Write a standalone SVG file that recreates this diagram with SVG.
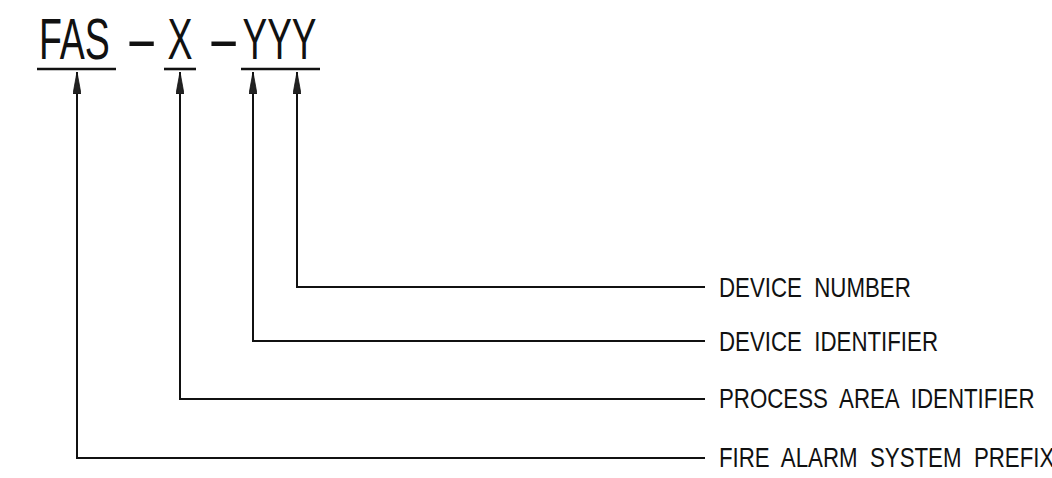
<svg xmlns="http://www.w3.org/2000/svg" width="1052" height="478" viewBox="0 0 1052 478">
<style>
  .title { font-family: "Liberation Sans", Arial, sans-serif; font-size: 57px; fill: #111; }
  .label { font-family: "Liberation Sans", Arial, sans-serif; font-size: 27.5px; fill: #111; white-space: pre; }
  .ul { stroke: #111; stroke-width: 2.6; fill: none; }
  .conn { stroke: #111; stroke-width: 2; fill: none; }
</style>
<defs>
  <marker id="arrow" markerUnits="userSpaceOnUse" viewBox="0 0 22 8" refX="22" refY="4" markerWidth="22" markerHeight="8" orient="auto">
    <path d="M0,0 L22,4 L0,8 Z" fill="#222" stroke="#111" stroke-width="0.8"/>
  </marker>
</defs>
<rect width="1052" height="478" fill="#fff"/>

<g id="node-fas">
  <text class="title" transform="translate(39,59) scale(0.658,1)">FAS</text>
  <line class="ul" x1="37" y1="69" x2="116" y2="69"/>
</g>
<g id="node-dash1">
  <text class="title" transform="translate(125,59) scale(1.75,1)">-</text>
</g>
<g id="node-x">
  <text class="title" transform="translate(167.5,59) scale(0.658,1)">X</text>
  <line class="ul" x1="164" y1="69" x2="196" y2="69"/>
</g>
<g id="node-dash2">
  <text class="title" transform="translate(207,59) scale(1.75,1)">-</text>
</g>
<g id="node-yyy">
  <text class="title" transform="translate(242.5,59) scale(0.649,1)">YYY</text>
  <line class="ul" x1="241" y1="69" x2="320" y2="69"/>
</g>

<g id="connectors">
  <path class="conn" d="M705,287 H297 V72" marker-end="url(#arrow)"/>
  <path class="conn" d="M705,341 H253 V72" marker-end="url(#arrow)"/>
  <path class="conn" d="M705,399 H180 V72" marker-end="url(#arrow)"/>
  <path class="conn" d="M705,458 H77 V72" marker-end="url(#arrow)"/>
</g>

<g id="node-device-number">
  <text class="label" transform="translate(719,297) scale(0.81,1)">DEVICE  NUMBER</text>
</g>
<g id="node-device-identifier">
  <text class="label" transform="translate(719,351) scale(0.81,1)">DEVICE  IDENTIFIER</text>
</g>
<g id="node-process-area">
  <text class="label" transform="translate(719,408) scale(0.81,1)">PROCESS  AREA  IDENTIFIER</text>
</g>
<g id="node-fire-alarm">
  <text class="label" transform="translate(719,467) scale(0.81,1)">FIRE  ALARM  SYSTEM  PREFIX</text>
</g>
</svg>
